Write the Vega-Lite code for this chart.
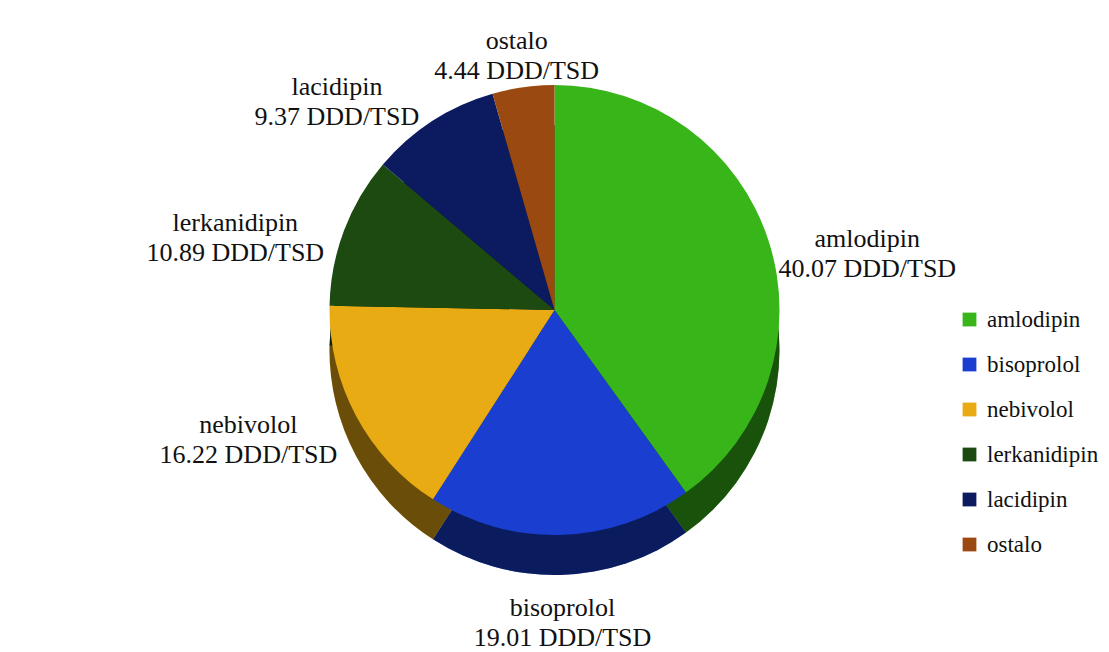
{
  "$schema": "https://vega.github.io/schema/vega-lite/v6.json",
  "width": 1109,
  "height": 652,
  "autosize": {"type": "fit", "contains": "padding"},
  "padding": 0,
  "background": "white",
  "data": {"values": [
    {"drug": "amlodipin", "value": 40.07, "rank": 1},
    {"drug": "bisoprolol", "value": 19.01, "rank": 2},
    {"drug": "nebivolol", "value": 16.22, "rank": 3},
    {"drug": "lerkanidipin", "value": 10.89, "rank": 4},
    {"drug": "lacidipin", "value": 9.37, "rank": 5},
    {"drug": "ostalo", "value": 4.44, "rank": 6}
  ]},
  "transform": [
    {"window": [{"op": "sum", "field": "value", "as": "cum"}], "sort": [{"field": "rank", "order": "ascending"}]},
    {"calculate": "datum.cum - datum.value / 2", "as": "mid"},
    {"calculate": "datum.drug + '\\n' + format(datum.value, '.2f') + ' DDD/TSD'", "as": "label"}
  ],
  "encoding": {
    "color": {
      "field": "drug",
      "type": "nominal",
      "scale": {
        "domain": ["amlodipin", "bisoprolol", "nebivolol", "lerkanidipin", "lacidipin", "ostalo"],
        "range": ["#38b518", "#1a3fd0", "#e8ab14", "#1c4a10", "#0c1a60", "#9a4a10"]
      },
      "legend": {
        "title": null,
        "orient": "none",
        "legendX": 958,
        "legendY": 308,
        "symbolType": "square",
        "symbolSize": 190,
        "symbolStrokeWidth": 0,
        "labelFont": "Liberation Serif",
        "labelFontSize": 23,
        "labelColor": "#111111",
        "labelOffset": 6,
        "rowPadding": 21
      }
    }
  },
  "layer": [
    {
      "mark": {"type": "arc", "outerRadius": 225, "yOffset": 24},
      "encoding": {
        "theta": {"field": "value", "type": "quantitative", "stack": true, "scale": {"domain": [0, 100]}},
        "order": {"field": "rank", "type": "quantitative"}
      }
    },
    {
      "mark": {"type": "arc", "outerRadius": 225, "yOffset": 24, "opacity": 0.55},
      "encoding": {
        "theta": {"field": "value", "type": "quantitative", "stack": true},
        "order": {"field": "rank", "type": "quantitative"},
        "color": {"value": "black"}
      }
    },
    {
      "mark": {"type": "arc", "outerRadius": 225, "yOffset": -16},
      "encoding": {
        "theta": {"field": "value", "type": "quantitative", "stack": true},
        "order": {"field": "rank", "type": "quantitative"}
      }
    },
    {
      "transform": [{"filter": "datum.drug == 'amlodipin'"}],
      "mark": {"type": "text", "radius": 232, "yOffset": -16, "dx": 92, "font": "Liberation Serif", "fontSize": 26, "lineHeight": 30, "lineBreak": "\n", "align": "center", "baseline": "middle"},
      "encoding": {
        "theta": {"field": "mid", "type": "quantitative", "stack": null},
        "text": {"field": "label", "type": "nominal"},
        "color": {"value": "#111111"}
      }
    },
    {
      "transform": [{"filter": "datum.drug == 'nebivolol' || datum.drug == 'lerkanidipin'"}],
      "mark": {"type": "text", "radius": 245, "yOffset": -16, "dx": -90, "font": "Liberation Serif", "fontSize": 26, "lineHeight": 30, "lineBreak": "\n", "align": "center", "baseline": "middle"},
      "encoding": {
        "theta": {"field": "mid", "type": "quantitative", "stack": null},
        "text": {"field": "label", "type": "nominal"},
        "color": {"value": "#111111"}
      }
    },
    {
      "transform": [{"filter": "datum.drug == 'lacidipin'"}],
      "mark": {"type": "text", "radius": 250, "yOffset": -16, "dx": -82, "font": "Liberation Serif", "fontSize": 26, "lineHeight": 30, "lineBreak": "\n", "align": "center", "baseline": "bottom"},
      "encoding": {
        "theta": {"field": "mid", "type": "quantitative", "stack": null},
        "text": {"field": "label", "type": "nominal"},
        "color": {"value": "#111111"}
      }
    },
    {
      "transform": [{"filter": "datum.drug == 'ostalo'"}],
      "mark": {"type": "text", "radius": 272, "yOffset": -16, "font": "Liberation Serif", "fontSize": 26, "lineHeight": 30, "lineBreak": "\n", "align": "center", "baseline": "middle"},
      "encoding": {
        "theta": {"field": "mid", "type": "quantitative", "stack": null},
        "text": {"field": "label", "type": "nominal"},
        "color": {"value": "#111111"}
      }
    },
    {
      "transform": [{"filter": "datum.drug == 'bisoprolol'"}],
      "mark": {"type": "text", "radius": 298, "yOffset": -16, "font": "Liberation Serif", "fontSize": 26, "lineHeight": 30, "lineBreak": "\n", "align": "center", "baseline": "middle"},
      "encoding": {
        "theta": {"field": "mid", "type": "quantitative", "stack": null},
        "text": {"field": "label", "type": "nominal"},
        "color": {"value": "#111111"}
      }
    }
  ]
}
